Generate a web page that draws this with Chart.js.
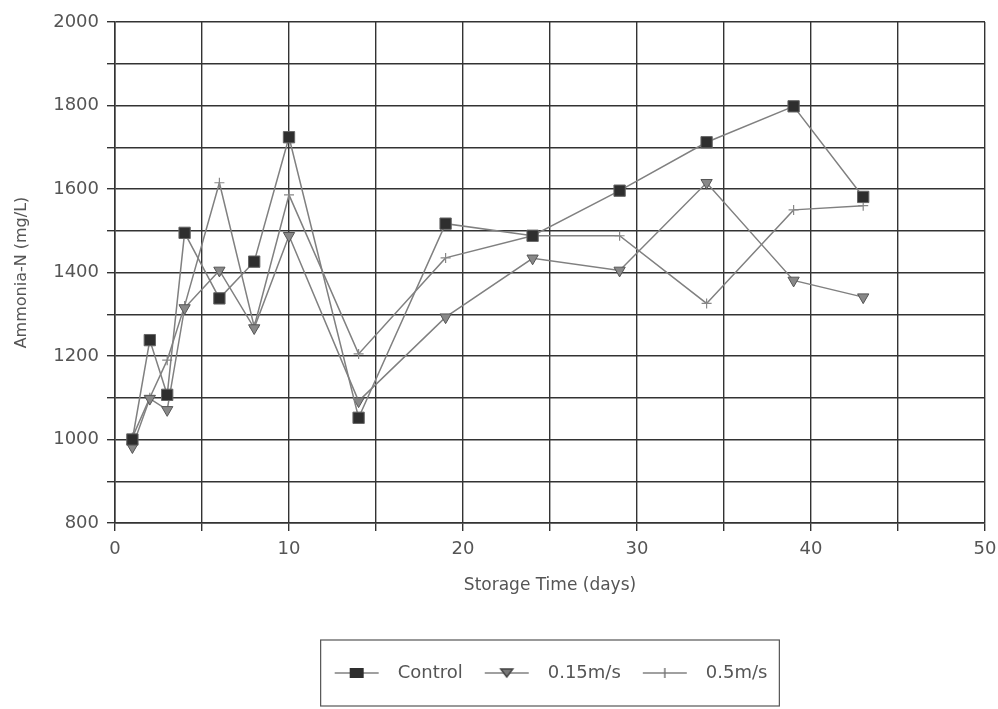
<!DOCTYPE html>
<html>
<head>
<meta charset="utf-8">
<script src="https://cdn.jsdelivr.net/npm/chart.js@4"></script>
<style>
  html, body { margin: 0; padding: 0; background: #fff; }
  #wrap { width: 998px; height: 709px; }
</style>
</head>
<body>
<div id="wrap"><canvas id="chart"></canvas></div>
<script>
// storage time (days) and ammonia-N readings (mg/L)
const days = [1, 2, 3, 4, 6, 8, 10, 14, 19, 24, 29, 34, 39, 43];
const control = [1000, 1238, 1107, 1495, 1338, 1426, 1724, 1052, 1517, 1488, 1596, 1712, 1798, 1581];
const v015 = [982, 1098, 1071, 1315, 1405, 1267, 1488, 1092, 1293, 1434, 1405, 1615, 1381, 1341];
const v05 = [1005, 1100, 1190, 1320, 1615, 1270, 1586, 1205, 1435, 1488, 1488, 1326, 1550, 1560];
const seriesNames = ["Control", "0.15m/s", "0.5m/s"];

const lineColor = "#808080";
const gridColor = "#333";
const textColor = "#555";
const font = "'DejaVu Sans', sans-serif";

const toPoints = (ys) => ys.map((y, i) => ({ x: days[i], y }));

// little "line + marker" images for the legend (with a bit of blank on the right)
function legendIcon(draw) {
    const c = document.createElement("canvas");
    c.width = 56;
    c.height = 18;
    const g = c.getContext("2d");
    g.strokeStyle = lineColor;
    g.lineWidth = 1.5;
    g.beginPath();
    g.moveTo(2, 9);
    g.lineTo(46, 9);
    g.stroke();
    draw(g);
    return c;
}
const icons = [
    legendIcon((g) => {
        g.fillStyle = "#2e2e2e";
        g.fillRect(17, 4, 14, 10);
    }),
    legendIcon((g) => {
        g.fillStyle = "#777";
        g.strokeStyle = "#444";
        g.beginPath();
        g.moveTo(18, 5);
        g.lineTo(30, 5);
        g.lineTo(24, 13);
        g.closePath();
        g.fill();
        g.stroke();
    }),
    legendIcon((g) => {
        g.strokeStyle = "#777";
        g.beginPath();
        g.moveTo(24, 4);
        g.lineTo(24, 14);
        g.stroke();
    }),
];

const legendBox = {
    id: "legendBox",
    afterDraw(chart) {
        const boxes = chart.legend.legendHitBoxes;
        if (!boxes || !boxes.length) return;
        const first = boxes[0];
        const last = boxes[boxes.length - 1];
        const ctx = chart.ctx;
        ctx.save();
        ctx.strokeStyle = "#555";
        ctx.lineWidth = 1.2;
        ctx.strokeRect(first.left - 12, first.top - 24, last.left + last.width - first.left + 24, first.height + 48);
        ctx.restore();
    },
};

const tickFont = { family: font, size: 18 };

new Chart(document.getElementById("chart"), {
    type: "line",
    data: {
        datasets: [
            {
                label: seriesNames[0],
                data: toPoints(control),
                borderColor: lineColor,
                borderWidth: 1.5,
                pointStyle: "rect",
                pointRadius: 8,
                pointBackgroundColor: "#2e2e2e",
                pointBorderColor: "#666",
                pointBorderWidth: 1,
            },
            {
                label: seriesNames[1],
                data: toPoints(v015),
                borderColor: lineColor,
                borderWidth: 1.5,
                pointStyle: "triangle",
                pointRotation: 180,
                pointRadius: 6.5,
                pointBackgroundColor: "#888",
                pointBorderColor: "#555",
                pointBorderWidth: 1,
            },
            {
                label: seriesNames[2],
                data: toPoints(v05),
                borderColor: lineColor,
                borderWidth: 1.5,
                pointStyle: "cross",
                pointRadius: 5,
                pointBorderColor: "#888",
                pointBorderWidth: 1.2,
            },
        ],
    },
    options: {
        responsive: true,
        maintainAspectRatio: false,
        animation: false,
        layout: { padding: { left: 8, right: 13, top: 22, bottom: 17 } },
        plugins: {
            tooltip: { enabled: false },
            legend: {
                position: "bottom",
                fullSize: false,
                labels: {
                    usePointStyle: true,
                    pointStyleWidth: 56,
                    padding: 20,
                    color: textColor,
                    font: tickFont,
                    generateLabels: (chart) =>
                        chart.data.datasets.map((ds, i) => ({
                            text: ds.label,
                            pointStyle: icons[i],
                            fontColor: textColor,
                            lineWidth: 0,
                            datasetIndex: i,
                        })),
                },
            },
        },
        scales: {
            x: {
                type: "linear",
                min: 0,
                max: 50,
                afterFit: (s) => {
                    s.height = 121;
                    s.paddingLeft = 0;
                    s.paddingRight = 0;
                },
                ticks: {
                    stepSize: 5,
                    color: textColor,
                    padding: 8,
                    font: tickFont,
                    callback: (v) => (v % 10 === 0 ? v : ""),
                },
                grid: { color: gridColor, lineWidth: 1.4, tickLength: 8 },
                border: { color: gridColor, width: 1.5 },
                title: {
                    display: true,
                    text: "Storage Time (days)",
                    color: textColor,
                    font: { family: font, size: 17 },
                    padding: { top: 4, bottom: 48 },
                },
            },
            y: {
                min: 800,
                max: 2000,
                afterFit: (s) => { s.width = 107; },
                ticks: {
                    stepSize: 100,
                    color: textColor,
                    padding: 8,
                    font: tickFont,
                    callback: (v) => (v % 200 === 0 ? v : ""),
                },
                grid: { color: gridColor, lineWidth: 1.4, tickLength: 8 },
                border: { color: gridColor, width: 1.5 },
                title: {
                    display: true,
                    text: "Ammonia-N (mg/L)",
                    color: textColor,
                    font: { family: font, size: 16 },
                    padding: { bottom: 0 },
                },
            },
        },
    },
    plugins: [legendBox],
});
</script>
</body>
</html>
